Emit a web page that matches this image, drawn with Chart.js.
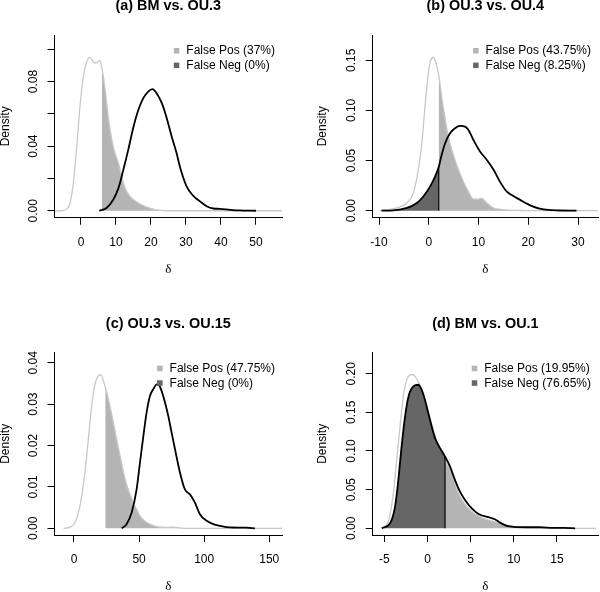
<!DOCTYPE html>
<html>
<head>
<meta charset="utf-8">
<title>Null vs alternative densities of delta</title>
<script src="https://cdn.jsdelivr.net/npm/chart.js@4.4.1/dist/chart.umd.min.js"></script>
<style>
  html, body { margin: 0; padding: 0; background: #fff; }
  body { width: 600px; height: 592px; position: relative; overflow: hidden; }
  canvas { position: absolute; }
</style>
</head>
<body>
<canvas id="pa" width="300" height="296" style="left:0;top:0"></canvas>
<canvas id="pb" width="300" height="296" style="left:300px;top:0"></canvas>
<canvas id="pc" width="300" height="296" style="left:0;top:296px"></canvas>
<canvas id="pd" width="300" height="296" style="left:300px;top:296px"></canvas>
<script>
// (a) BM vs. OU.3
const aTitle = '(a) BM vs. OU.3';
const aNullX = [-7.4, -5.5, -4, -3.1, -2.2, -1.2, -0.3, 0.67, 1.6, 2.6, 3.5, 4.4, 5.4, 6.0, 6.9, 7.8, 8.8, 9.7, 10.7, 11.6, 12.6, 14, 15.4, 17.3, 19.2, 21.6, 25.4, 57.4];
const aNullY = [0, 0, 0.0012, 0.0048, 0.017, 0.040, 0.0645, 0.083, 0.092, 0.095, 0.092, 0.0915, 0.093, 0.088, 0.075, 0.058, 0.044, 0.0357, 0.0295, 0.0212, 0.014, 0.0089, 0.0062, 0.0037, 0.002, 0.0006, 0, 0];
const aAltX = [5.2, 7.3, 9.2, 10.7, 12.1, 13.5, 14.9, 16.4, 17.8, 19.2, 20.4, 21.6, 23.1, 24.5, 25.9, 27.3, 28.3, 30.2, 32.1, 34, 35.9, 37.8, 39.7, 42.6, 45.4, 50];
const aAltY = [0, 0.0017, 0.0068, 0.014, 0.0254, 0.0377, 0.0511, 0.0625, 0.0697, 0.0738, 0.0753, 0.0728, 0.0666, 0.0573, 0.046, 0.0357, 0.027, 0.015, 0.0092, 0.0058, 0.0028, 0.0014, 0.0012, 0.0006, 0.0002, 0];
const aThreshold = 6.0;
const aLegend = ['False Pos (37%)', 'False Neg (0%)'];
const aXTicks = [0, 10, 20, 30, 40, 50];
const aXLabels = ['0', '10', '20', '30', '40', '50'];
const aYTicks = [0, 0.02, 0.04, 0.06, 0.08, 0.10];
const aYLabels = ['0.00', '', '0.04', '', '0.08', ''];

// (b) OU.3 vs. OU.4
const bTitle = '(b) OU.3 vs. OU.4';
const bNullX = [-9.9, -8.5, -6.4, -4.4, -3.1, -2.1, -1.4, -0.75, -0.1, 0.4, 0.92, 1.46, 2, 2.6, 3.27, 3.93, 4.94, 5.95, 6.95, 7.95, 8.96, 9.96, 10.6, 11.65, 13, 14.5, 16, 18.3, 22.3, 34];
const bNullY = [0, 0.001, 0.0027, 0.0077, 0.0176, 0.041, 0.067, 0.104, 0.137, 0.150, 0.153, 0.147, 0.135, 0.114, 0.092, 0.074, 0.0557, 0.041, 0.0292, 0.0192, 0.0116, 0.0116, 0.0126, 0.0077, 0.0027, 0.0013, 0.0006, 0.0002, 0, 0];
const bAltX = [-9.5, -7.1, -4.4, -2.4, -1.1, 0.25, 1.26, 2, 2.6, 3.27, 4.27, 5.28, 6.28, 7.29, 7.95, 8.96, 10.3, 11.65, 13, 14.3, 15.6, 17, 18.3, 19.7, 21, 22.3, 24, 26.4, 29.7];
const bAltY = [0, 0.0003, 0.0027, 0.0077, 0.0142, 0.024, 0.034, 0.0435, 0.0557, 0.067, 0.0773, 0.0823, 0.0846, 0.0839, 0.0806, 0.0707, 0.059, 0.0508, 0.041, 0.029, 0.0195, 0.0146, 0.011, 0.007, 0.004, 0.002, 0.0007, 0.0002, 0];
const bThreshold = 2;
const bLegend = ['False Pos (43.75%)', 'False Neg (8.25%)'];
const bXTicks = [-10, 0, 10, 20, 30];
const bXLabels = ['-10', '0', '10', '20', '30'];
const bYTicks = [0, 0.05, 0.10, 0.15];
const bYLabels = ['0.00', '0.05', '0.10', '0.15'];

// (c) OU.3 vs. OU.15
const cTitle = '(c) OU.3 vs. OU.15';
const cNullX = [-8, -3, 0.8, 4.6, 8.4, 11, 13.6, 16.1, 18, 19.5, 21.2, 23, 24, 27.6, 30.2, 32.8, 35.3, 37.9, 40.4, 43, 45.6, 48.1, 50.7, 54.5, 58.4, 63.5, 71.3, 76.4, 84, 160];
const cNullY = [0, 0.0003, 0.0014, 0.0054, 0.0135, 0.0215, 0.0296, 0.0348, 0.0365, 0.0371, 0.0369, 0.0352, 0.0342, 0.0296, 0.0256, 0.0215, 0.0177, 0.0137, 0.0106, 0.0083, 0.0062, 0.0046, 0.003, 0.0017, 0.001, 0.0004, 0.0002, 0.0003, 0, 0];
const cAltX = [36.6, 40.4, 44.3, 48.1, 50.7, 53.3, 55.8, 58.4, 60.9, 63.5, 65.3, 67.3, 69.9, 72.4, 75, 77.6, 81.4, 85.2, 89.1, 92.9, 96.7, 101.9, 107, 112.1, 119.8, 127.5, 132.6, 139];
const cAltY = [0, 0.001, 0.0038, 0.0094, 0.0159, 0.0223, 0.028, 0.032, 0.0336, 0.0348, 0.0346, 0.0332, 0.0304, 0.0272, 0.0231, 0.0191, 0.0135, 0.0094, 0.0082, 0.0062, 0.0034, 0.0018, 0.001, 0.0006, 0.0002, 0.00016, 0.00016, 0];
const cThreshold = 24;
const cLegend = ['False Pos (47.75%)', 'False Neg (0%)'];
const cXTicks = [0, 50, 100, 150];
const cXLabels = ['0', '50', '100', '150'];
const cYTicks = [0, 0.01, 0.02, 0.03, 0.04];
const cYLabels = ['0.00', '0.01', '0.02', '0.03', '0.04'];

// (d) BM vs. OU.1
const dTitle = '(d) BM vs. OU.1';
const dNullX = [-5.3, -4.5, -3.96, -3.57, -3.18, -2.8, -2.4, -1.83, -1.45, -1.0, -0.4, 0.15, 0.7, 1.3, 2.03, 2.8, 3.57, 4.34, 5.1, 5.9, 6.66, 7.8, 8.4, 9.6, 10.7, 13, 14.6, 16.1, 19.5];
const dNullY = [0, 0.0108, 0.045, 0.0885, 0.132, 0.171, 0.192, 0.199, 0.1965, 0.188, 0.168, 0.148, 0.126, 0.105, 0.087, 0.072, 0.046, 0.031, 0.022, 0.016, 0.012, 0.0083, 0.0062, 0.003, 0.0013, 0.0008, 0.0003, 0, 0];
const dAltX = [-5.3, -4.34, -3.76, -3.38, -3, -2.6, -2.2, -1.64, -1.07, -0.67, -0.29, 0.09, 0.48, 0.87, 1.45, 2.03, 2.6, 3.18, 3.76, 4.34, 5.1, 5.9, 7.06, 7.8, 8.4, 9.2, 10, 11.5, 13, 14.6, 15.7, 17.1];
const dAltY = [0, 0.0065, 0.028, 0.0626, 0.106, 0.1447, 0.1706, 0.1835, 0.1857, 0.179, 0.166, 0.149, 0.132, 0.1167, 0.1037, 0.0928, 0.08, 0.0626, 0.0474, 0.0367, 0.026, 0.0185, 0.0143, 0.0117, 0.0073, 0.003, 0.0017, 0.0013, 0.0013, 0.0004, 0.0004, 0];
const dThreshold = 2.03;
const dLegend = ['False Pos (19.95%)', 'False Neg (76.65%)'];
const dXTicks = [-5, 0, 5, 10, 15];
const dXLabels = ['-5', '0', '5', '10', '15'];
const dYTicks = [0, 0.05, 0.10, 0.15, 0.20];
const dYLabels = ['0.00', '0.05', '0.10', '0.15', '0.20'];

const SANS = '"Liberation Sans", Arial, Helvetica, sans-serif';
const SERIF = '"Liberation Serif", "DejaVu Serif", serif';
const NULL_LINE = '#c8c8c8';
const FP_FILL = '#b4b4b4';
const FN_FILL = '#666666';

Chart.defaults.font.family = SANS;
Chart.defaults.color = '#000';

// plot-region geometry inside each 300x296 canvas
const leftCol = { left: 54.5, right: 282, yTitlePad: -0.6 };
const rightCol = { left: 72.7, right: 298, yTitlePad: 16.4 };
const topRow = { top: 35, bottom: 217.7, titleMid: 6.3, deltaPad: 19.5 };
const bottomRow = { top: 56.7, bottom: 239, titleMid: 28, deltaPad: -1.5 };

// legend drawn in the top-right corner of the plot region
const innerLegend = {
  id: 'innerLegend',
  afterDraw(chart, args, opts) {
    if (!opts.labels) return;
    const { ctx, chartArea } = chart;
    ctx.save();
    ctx.font = '12px ' + SANS;
    const w = Math.max(...opts.labels.map(t => ctx.measureText(t).width));
    const tx = chartArea.right - 7 - w;
    opts.labels.forEach((t, i) => {
      const y = chartArea.top + 16 + i * 14.6;
      ctx.fillStyle = opts.colors[i];
      ctx.fillRect(tx - 12.5, y - 3, 5.5, 5.5);
      ctx.fillStyle = '#000';
      ctx.textBaseline = 'middle';
      ctx.textAlign = 'left';
      ctx.fillText(t, tx, y);
    });
    ctx.restore();
  }
};

function pts(xs, ys, from, to) {
  const out = [];
  xs.forEach((x, i) => { if (x >= from && x <= to) out.push({ x: x, y: ys[i] }); });
  return out;
}

function makePanel(p) {
  const col = p.col, row = p.row;
  const datasets = [];
  datasets.push({ data: pts(p.nullX, p.nullY, p.thr, Infinity), fill: 'origin', backgroundColor: FP_FILL, borderColor: 'rgba(0,0,0,0)', borderWidth: 0, order: 5 });
  datasets.push({ data: pts(p.nullX, p.nullY, -Infinity, Infinity), borderColor: NULL_LINE, borderWidth: 1.3, order: 4 });
  if (p.showNeg) {
    datasets.push({ data: pts(p.altX, p.altY, -Infinity, p.thr), fill: 'origin', backgroundColor: FN_FILL, borderColor: 'rgba(0,0,0,0)', borderWidth: 0, order: 3 });
    const k = p.altX.indexOf(p.thr);
    datasets.push({ data: [{ x: p.thr, y: 0 }, { x: p.thr, y: p.altY[k] }], borderColor: '#000', borderWidth: 1.2, cubicInterpolationMode: 'default', tension: 0, order: 1 });
  }
  datasets.push({ data: pts(p.altX, p.altY, -Infinity, Infinity), borderColor: '#000', borderWidth: 1.8, order: 2 });

  const axisCommon = {
    type: 'linear',
    bounds: 'data',
    grid: { display: true, drawOnChartArea: false, drawTicks: true, tickLength: 7, color: '#000', lineWidth: 1 },
    border: { display: true, color: '#000', width: 1 }
  };

  new Chart(document.getElementById(p.id), {
    type: 'line',
    data: { datasets: datasets },
    plugins: [innerLegend],
    options: {
      responsive: false,
      animation: false,
      devicePixelRatio: 1,
      events: [],
      elements: { point: { radius: 0 }, line: { cubicInterpolationMode: 'monotone', fill: false } },
      layout: { padding: { left: 0, top: 0, bottom: 0, right: 300 - col.right } },
      plugins: {
        legend: { display: false },
        tooltip: { enabled: false },
        title: {
          display: true, text: p.title, fullSize: false, color: '#000',
          font: { family: SANS, size: 14.4, weight: 'bold', lineHeight: 1 },
          padding: { top: row.titleMid - 7.2, bottom: row.top - 14.4 - (row.titleMid - 7.2) }
        },
        innerLegend: { labels: p.legend, colors: [FP_FILL, FN_FILL] }
      },
      scales: {
        x: Object.assign({}, axisCommon, {
          min: p.xRange[0], max: p.xRange[1],
          afterBuildTicks: s => { s.ticks = p.xTicks.map(v => ({ value: v })); },
          afterFit: s => { s.height = 296 - row.bottom; },
          ticks: { autoSkip: false, maxRotation: 0, minRotation: 0, padding: 10.4, color: '#000', font: { size: 12 }, callback: (v, i) => p.xLabels[i] },
          title: { display: true, text: 'δ', color: '#000', font: { family: SERIF, size: 13, lineHeight: 1 }, padding: { top: 0, bottom: row.deltaPad } }
        }),
        y: Object.assign({}, axisCommon, {
          min: p.yRange[0], max: p.yRange[1],
          afterBuildTicks: s => { s.ticks = p.yTicks.map(v => ({ value: v })); },
          afterFit: s => { s.width = col.left; },
          ticks: { autoSkip: false, minRotation: 90, maxRotation: 90, crossAlign: 'center', padding: 2.5, color: '#000', font: { size: 12 }, callback: (v, i) => p.yLabels[i] },
          title: { display: true, text: 'Density', color: '#000', font: { family: SANS, size: 12, lineHeight: 1 }, padding: { top: col.yTitlePad, bottom: 0 } }
        })
      }
    }
  });
}

makePanel({ id: 'pa', title: aTitle, nullX: aNullX, nullY: aNullY, altX: aAltX, altY: aAltY, thr: aThreshold, showNeg: false,
  legend: aLegend, xTicks: aXTicks, xLabels: aXLabels, yTicks: aYTicks, yLabels: aYLabels,
  xRange: [-7.57, 57.43], yRange: [-0.0043, 0.1088], col: leftCol, row: topRow });
makePanel({ id: 'pb', title: bTitle, nullX: bNullX, nullY: bNullY, altX: bAltX, altY: bAltY, thr: bThreshold, showNeg: true,
  legend: bLegend, xTicks: bXTicks, xLabels: bXLabels, yTicks: bYTicks, yLabels: bYLabels,
  xRange: [-11.27, 34.02], yRange: [-0.007, 0.1752], col: rightCol, row: topRow });
makePanel({ id: 'pc', title: cTitle, nullX: cNullX, nullY: cNullY, altX: cAltX, altY: cAltY, thr: cThreshold, showNeg: false,
  legend: cLegend, xTicks: cXTicks, xLabels: cXLabels, yTicks: cYTicks, yLabels: cYLabels,
  xRange: [-14.98, 159.8], yRange: [-0.00162, 0.04243], col: leftCol, row: bottomRow });
makePanel({ id: 'pd', title: dTitle, nullX: dNullX, nullY: dNullY, altX: dAltX, altY: dAltY, thr: dThreshold, showNeg: true,
  legend: dLegend, xTicks: dXTicks, xLabels: dXLabels, yTicks: dYTicks, yLabels: dYLabels,
  xRange: [-6.35, 19.75], yRange: [-0.0087, 0.2272], col: rightCol, row: bottomRow });
</script>
</body>
</html>
